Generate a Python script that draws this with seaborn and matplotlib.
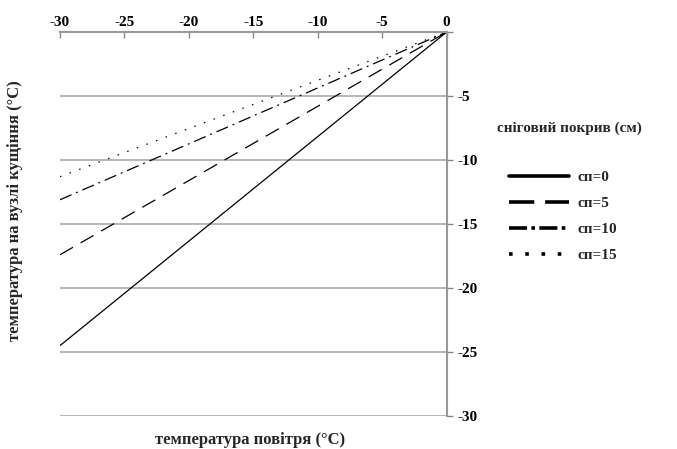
import numpy as np
import matplotlib.pyplot as plt
import seaborn as sns
import pandas as pd

# температура повітря (°C) і температура на вузлі кущіння (°C)
air_temp = [-30, 0]
cn0 = [-24.5, 0]
cn5 = [-17.4, 0]
cn10 = [-13.1, 0]
cn15 = [-11.3, 0]
series_labels = ["сп=0", "сп=5", "сп=10", "сп=15"]
ticks = [-30, -25, -20, -15, -10, -5, 0]

df = pd.DataFrame({
    "air": air_temp * 4,
    "node": cn0 + cn5 + cn10 + cn15,
    "cover": sum([[lab] * len(air_temp) for lab in series_labels], []),
})

sns.set_style("white")
plt.rcParams["font.family"] = ["Liberation Serif", "DejaVu Serif"]
plt.rcParams["font.weight"] = "bold"
plt.rcParams["axes.unicode_minus"] = False

fig = plt.figure(figsize=(6.77, 4.49), dpi=100)
ax = fig.add_axes([0.0886, 0.0735, 0.571, 0.855])

dashes = {"сп=0": "", "сп=5": (12, 7), "сп=10": (10, 4, 1.5, 4), "сп=15": (1.2, 7)}
sns.lineplot(data=df, x="air", y="node", style="cover", dashes=dashes,
             color="black", linewidth=0.9, ax=ax, legend=False)

ax.set_xlim(-30, 0)
ax.set_ylim(-30, 0)
ax.set_xticks(ticks)
ax.set_yticks(ticks)
ax.set_yticklabels([str(t) if t != 0 else "" for t in ticks])
ax.xaxis.tick_top()
ax.yaxis.tick_right()
ax.tick_params(axis="both", colors="#888888", labelcolor="black", labelsize=11,
               length=4, width=1, direction="in", pad=2)
ax.tick_params(axis="y", direction="out", pad=4)

for y in ticks[:-1]:
    ax.axhline(y, color="#aaaaaa", linewidth=1.2, zorder=0)

for side in ["left", "bottom"]:
    ax.spines[side].set_visible(False)
for side in ["top", "right"]:
    ax.spines[side].set_color("#999999")
    ax.spines[side].set_linewidth(1.5)

ax.set_xlabel("")
ax.set_ylabel("")
fig.text(0.37, 0.003, "температура повітря (°С)", ha="center", va="bottom",
         fontsize=12, fontweight="bold")
fig.text(0.01, 0.53, "температура на вузлі кущіння (°С)", ha="left", va="center",
         rotation=90, fontsize=12, fontweight="bold")

fig.text(0.734, 0.715, "сніговий покрив (см)", ha="left", va="center",
         fontsize=11, fontweight="bold")

handles = []
legend_dashes = {"сп=0": "", "сп=5": (7, 3), "сп=10": (5, 1.2, 1, 1.2), "сп=15": (1, 3.5)}
for d in legend_dashes.values():
    h = plt.Line2D([], [], color="black", linewidth=2.6)
    if d != "":
        h.set_dashes(d)
    handles.append(h)
fig.legend(handles, series_labels, loc="upper left", bbox_to_anchor=(0.743, 0.634),
           borderaxespad=0, frameon=False, fontsize=11,
           handlelength=3.9, labelspacing=0.8, handletextpad=0.6)

fig.savefig("out.png", dpi=100)
